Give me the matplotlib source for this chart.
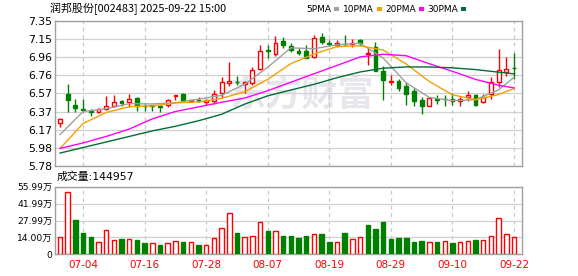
import numpy as np
import matplotlib.pyplot as plt
from matplotlib.patches import Rectangle

plt.rcParams['font.family'] = ['DejaVu Sans', 'Noto Sans CJK SC']

W, H = 578, 276
RED = '#ff0000'
GREEN = '#008000'

title = '润邦股份[002483] 2025-09-22 15:00'

dates = ['07-01', '07-02', '07-03', '07-04', '07-07', '07-08', '07-09', '07-10', '07-11', '07-14',
         '07-15', '07-16', '07-17', '07-18', '07-21', '07-22', '07-23', '07-24', '07-25', '07-28',
         '07-29', '07-30', '07-31', '08-01', '08-04', '08-05', '08-06', '08-07', '08-08', '08-11',
         '08-12', '08-13', '08-14', '08-15', '08-18', '08-19', '08-20', '08-21', '08-22', '08-25',
         '08-26', '08-27', '08-28', '08-29', '09-01', '09-02', '09-03', '09-04', '09-05', '09-08',
         '09-09', '09-10', '09-11', '09-12', '09-15', '09-16', '09-17', '09-18', '09-19', '09-22']

opens = [6.25, 6.56, 6.44, 6.395, 6.38, 6.37, 6.40, 6.43, 6.48, 6.47,
         6.52, 6.43, 6.44, 6.43, 6.44, 6.54, 6.56, 6.48, 6.49, 6.47,
         6.48, 6.57, 6.675, 6.69, 6.665, 6.675, 6.83, 7.04, 6.99, 7.13,
         7.08, 7.025, 7.03, 6.965, 7.175, 7.11, 7.09, 7.105, 7.10, 7.145,
         6.99, 7.07, 6.81, 6.69, 6.70, 6.645, 6.595, 6.49, 6.435, 6.51,
         6.51, 6.505, 6.485, 6.525, 6.55, 6.47, 6.555, 6.69, 6.80, 6.84]
highs = [6.30, 6.67, 6.51, 6.51, 6.40, 6.41, 6.54, 6.55, 6.50, 6.56,
         6.53, 6.45, 6.44, 6.44, 6.51, 6.55, 6.57, 6.50, 6.53, 6.505,
         6.60, 6.74, 6.905, 6.75, 6.70, 6.85, 7.09, 7.09, 7.19, 7.18,
         7.115, 7.06, 7.09, 7.20, 7.22, 7.14, 7.14, 7.20, 7.15, 7.16,
         7.07, 7.12, 6.86, 6.77, 6.72, 6.69, 6.62, 6.53, 6.52, 6.55,
         6.55, 6.57, 6.53, 6.59, 6.56, 6.56, 6.74, 7.05, 6.965, 7.00]
lows = [6.20, 6.36, 6.36, 6.36, 6.32, 6.35, 6.39, 6.42, 6.43, 6.42,
        6.38, 6.38, 6.38, 6.37, 6.42, 6.50, 6.48, 6.47, 6.47, 6.44,
        6.45, 6.52, 6.65, 6.66, 6.57, 6.66, 6.82, 6.95, 6.975, 7.06,
        7.01, 6.98, 6.945, 6.95, 7.10, 7.08, 7.07, 7.08, 7.07, 7.08,
        6.87, 6.81, 6.50, 6.66, 6.59, 6.44, 6.43, 6.345, 6.43, 6.45,
        6.43, 6.44, 6.43, 6.485, 6.43, 6.46, 6.51, 6.64, 6.755, 6.72]
closes = [6.29, 6.49, 6.41, 6.385, 6.37, 6.40, 6.43, 6.47, 6.465, 6.51,
          6.43, 6.425, 6.43, 6.42, 6.50, 6.55, 6.49, 6.495, 6.485, 6.495,
          6.56, 6.69, 6.70, 6.685, 6.69, 6.82, 7.03, 7.025, 7.11, 7.09,
          7.04, 7.00, 6.95, 7.17, 7.12, 7.105, 7.115, 7.10, 7.108, 7.115,
          7.00, 6.81, 6.71, 6.695, 6.62, 6.565, 6.48, 6.43, 6.52, 6.50,
          6.503, 6.485, 6.51, 6.55, 6.44, 6.53, 6.685, 6.82, 6.83, 6.836]
volumes = [147000, 516000, 280000, 177000, 141000, 101000, 198000, 117000, 125000, 125000,
           117000, 92000, 92000, 76000, 92000, 109000, 101000, 101000, 76000, 76000,
           139000, 220000, 342000, 174000, 147000, 155000, 269000, 190000, 196000, 149000,
           155000, 133000, 155000, 171000, 166000, 101000, 101000, 174000, 125000, 147000,
           239000, 207000, 264000, 125000, 133000, 133000, 101000, 109000, 98000, 101000,
           114000, 92000, 101000, 109000, 117000, 117000, 155000, 302000, 166000, 144957]

# moving averages every 3rd session
ma_idx = [0, 3, 6, 9, 12, 15, 18, 21, 24, 27, 30, 33, 36, 39, 42, 45, 48, 51, 54, 57, 59]
ma5 = [6.12, 6.37, 6.40, 6.455, 6.452, 6.465, 6.504, 6.545, 6.665, 6.85, 7.059,
       7.05, 7.092, 7.109, 6.949, 6.68, 6.523, 6.488, 6.498, 6.605, 6.74]
ma10 = [5.97, 6.24, 6.36, 6.422, 6.432, 6.463, 6.474, 6.512, 6.584, 6.718, 6.888,
        6.993, 7.073, 7.082, 7.035, 6.884, 6.695, 6.551, 6.498, 6.554, 6.619]
ma20 = [5.97, 6.03, 6.10, 6.18, 6.29, 6.37, 6.42, 6.47, 6.516, 6.595, 6.687,
        6.779, 6.869, 6.961, 6.990, 6.974, 6.887, 6.805, 6.718, 6.654, 6.626]
ma30 = [5.92, 5.98, 6.04, 6.10, 6.16, 6.21, 6.27, 6.34, 6.45, 6.54, 6.603,
        6.664, 6.736, 6.798, 6.839, 6.853, 6.852, 6.843, 6.824, 6.796, 6.778]
ma_names = ['5PMA', '10PMA', '20PMA', '30PMA']
ma_colors = ['#a0a0a0', '#f5a000', '#ff00ff', '#006e35']

price_ticks = [5.78, 5.98, 6.17, 6.37, 6.57, 6.76, 6.96, 7.15, 7.35]
vol_ticks = [0, 139975, 279950, 419925, 559900]
vol_labels = ['0', '14.00万', '27.99万', '41.99万', '55.99万']

n = len(dates)
x = np.arange(n)
date_ticks = x[3::8]

fig = plt.figure(figsize=(W / 100, H / 100), dpi=100)
ax1 = fig.add_axes([55 / W, 1 - 166 / H, 467 / W, 145 / H])
ax2 = fig.add_axes([55 / W, 1 - 254.3 / H, 467 / W, 67.6 / H])

# candles
for i in range(n):
    up = closes[i] >= opens[i]
    col = RED if up else GREEN
    ax1.vlines(i, lows[i], highs[i], color=col, lw=1, zorder=2)
    lo = min(opens[i], closes[i])
    hgt = max(abs(closes[i] - opens[i]), 0.003)
    ax1.bar(i, hgt, 0.5, bottom=lo, facecolor='white' if up else col,
            edgecolor=col, lw=1, zorder=3)

for vals, col in zip([ma5, ma10, ma20, ma30], ma_colors):
    ax1.plot(ma_idx, vals, color=col, lw=1, zorder=4)

ax1.text(0.53, 0.49, '东方财富', transform=ax1.transAxes, ha='center', va='center',
         fontsize=26, fontweight='bold', color='#e6e6ec', family=['Noto Sans CJK SC'], zorder=0)

ax1.set_xlim(-0.65, n + 0.04)
ax1.set_ylim(price_ticks[0], price_ticks[-1])
ax1.set_yticks(price_ticks)
ax1.set_yticklabels([f'{p:.2f}' for p in price_ticks], fontsize=7.8)
ax1.set_xticks(date_ticks)
ax1.set_xticklabels([])

# volume
prev = [closes[0] - 1] + closes[:-1]
for i in range(n):
    col = RED if closes[i] >= prev[i] else GREEN
    ax2.bar(i, volumes[i], 0.58, facecolor='white' if col == RED else col,
            edgecolor=col, lw=1, zorder=3)
ax2.set_xlim(-0.65, n + 0.04)
ax2.set_ylim(0, vol_ticks[-1])
ax2.set_yticks(vol_ticks)
ax2.set_yticklabels(vol_labels, fontsize=6.6)
ax2.set_xticks(date_ticks)
ax2.set_xticklabels([dates[i] for i in date_ticks], fontsize=7.5, color=RED)

for ax in (ax1, ax2):
    ax.grid(axis='y', color='#d0d0d0', ls='-', lw=0.9, zorder=0)
    ax.grid(axis='x', color='#c8c8c8', ls=(0, (3, 3)), lw=0.9, zorder=0)
    ax.tick_params(length=0, pad=2)
    for s in ax.spines.values():
        s.set_color('#a0a0a0')
        s.set_linewidth(1)
    ax.set_axisbelow(True)
ax2.tick_params(axis='x', pad=4)

fig.text(50 / W, 1 - 9 / H, title, ha='left', va='center', fontsize=7.9,
         family=['Noto Sans CJK SC'])
fig.text(57 / W, 1 - 177 / H, f'成交量:{volumes[-1]}', ha='left', va='center', fontsize=7.8)

# legend row
text_x = [306, 343, 385, 427]
for name, col, tx in zip(ma_names, ma_colors, text_x):
    t = fig.text(tx / W, 1 - 9 / H, name, ha='left', va='center', fontsize=6.5)
    fig.canvas.draw()
    bb = t.get_window_extent()
    fig.add_artist(Rectangle(((bb.x1 + 3) / W, (H - 11) / H), 5 / W, 4 / H,
                             transform=fig.transFigure, color=col, lw=0))

fig.savefig('out.png', dpi=100)
